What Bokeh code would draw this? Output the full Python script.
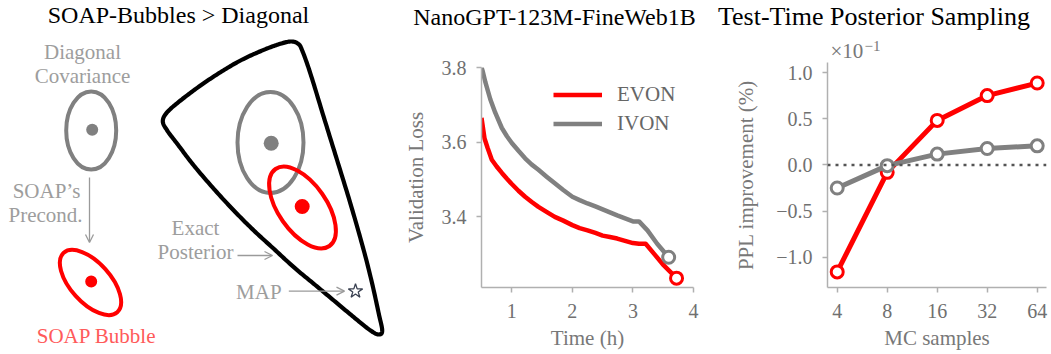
import numpy as np
from bokeh.plotting import figure
from bokeh.layouts import row, column
from bokeh.models import (Range1d, Arrow, OpenHead, FixedTicker,
                          CustomJSTickFormatter, Legend, LegendItem, Span)
from bokeh.core.properties import value
from bokeh.embed import file_html
from bokeh.resources import INLINE

SERIF = "Liberation Serif"
RED = "#ff0000"
GRAY = "#808080"
AXIS = "#b0b0b0"
TICKTXT = "#707070"
LABTXT = "#787878"
LIGHT = "#9d9d9d"
BASE_SHIFT = 0.31   # em: rendered alphabetic baseline sits this much below the anchor

# ---------------- titles ----------------
panel_titles = ["SOAP-Bubbles > Diagonal", "NanoGPT-123M-FineWeb1B", "Test-Time Posterior Sampling"]

# ---------------- data: middle panel (NanoGPT-123M-FineWeb1B) ----------------
evon_time = [0.50, 0.55, 0.60, 0.67, 0.75, 0.84, 0.92, 1.00, 1.11, 1.22, 1.33, 1.44,
             1.58, 1.71, 1.85, 2.00, 2.12, 2.25, 2.38, 2.50, 2.62, 2.74, 2.87, 3.00,
             3.10, 3.21, 3.35, 3.51, 3.72]
evon_loss = [3.665, 3.610, 3.585, 3.553, 3.535, 3.517, 3.502, 3.488, 3.470, 3.454, 3.440, 3.427,
             3.413, 3.400, 3.390, 3.378, 3.370, 3.364, 3.357, 3.350, 3.346, 3.342, 3.336, 3.330,
             3.328, 3.328, 3.301, 3.270, 3.236]
ivon_time = [0.50, 0.52, 0.565, 0.645, 0.727, 0.836, 0.92, 1.00, 1.11, 1.22, 1.33, 1.44,
             1.58, 1.71, 1.85, 2.00, 2.12, 2.25, 2.38, 2.50, 2.62, 2.74, 2.87, 3.00,
             3.10, 3.24, 3.40, 3.59]
ivon_loss = [3.800, 3.790, 3.760, 3.715, 3.679, 3.638, 3.616, 3.598, 3.577, 3.557, 3.540, 3.526,
             3.507, 3.490, 3.472, 3.454, 3.445, 3.436, 3.428, 3.420, 3.412, 3.404, 3.396, 3.388,
             3.388, 3.364, 3.328, 3.292]
time_ticks = [1, 2, 3, 4]
loss_ticks = [3.4, 3.6, 3.8]
series_names = ["EVON", "IVON"]

# ---------------- data: right panel (Test-Time Posterior Sampling) ----------------
mc_samples = [4, 8, 16, 32, 64]
evon_ppl = [-1.16, -0.08, 0.484, 0.753, 0.889]   # in units of 1e-1 %
ivon_ppl = [-0.25, -0.007, 0.118, 0.179, 0.208]  # in units of 1e-1 %
ppl_ticks = [-1.0, -0.5, 0.0, 0.5, 1.0]

# ---------------- data: left schematic (page pixel space) ----------------
posterior_x = [162.3, 166.7, 180, 200, 220, 240, 260, 276.7, 290, 297.7, 301.7, 310, 323.3,
               336.7, 350, 363.3, 371.7, 378.3, 381.7, 378.3, 370, 353.3, 333.3, 313.3,
               293.3, 273.3, 253.3, 233.3, 213.3, 193.3, 176.7, 166.7]
posterior_y = [120.7, 111.7, 100, 85, 71.7, 60, 50.7, 44.3, 41, 43.3, 50, 73.3, 116.7,
               160, 203.3, 250, 283.3, 313.3, 330, 334, 330, 316.7, 300, 283.3,
               266.7, 248.3, 230, 210, 188.3, 165, 143.3, 130]
ell_x = [90.7, 90.0, 270.0, 302.0]
ell_y = [130.0, 282.0, 142.0, 207.0]
ell_w = [50, 80, 66, 94]
ell_h = [78, 40, 101, 48]
ell_angle = [0, -48, 0, -55]
ell_color = [GRAY, RED, GRAY, RED]
dot_x = [91.7, 90.7, 270.7, 301.7]
dot_y = [129.3, 281.0, 142.7, 206.0]
dot_size = [12, 12, 15, 15]
note_text = ["Diagonal", "Covariance", "SOAP\u2019s", "Precond.", "Exact", "Posterior", "MAP"]
note_x = [82, 82, 46, 45, 195, 195, 258.3]
note_y = [58.3, 81.7, 197.3, 220.7, 234.3, 258.3, 298.3]   # baselines


def catmull_rom_closed(px, py, n=14):
    P = np.column_stack([px, py]).astype(float)
    N = len(P)
    out = []
    t = np.linspace(0, 1, n, endpoint=False)[:, None]
    for i in range(N):
        p0, p1_, p2_, p3_ = P[(i - 1) % N], P[i], P[(i + 1) % N], P[(i + 2) % N]
        pts = 0.5 * ((2 * p1_) + (-p0 + p2_) * t + (2 * p0 - 5 * p1_ + 4 * p2_ - p3_) * t ** 2
                     + (-p0 + 3 * p1_ - 3 * p2_ + p3_) * t ** 3)
        out.append(pts)
    out = np.vstack(out + [P[:1]])
    return out[:, 0], out[:, 1]


def no_align(p):
    if "frame_align" in p.properties():
        p.frame_align = False


def blank(x0, x1, y0, y1):
    f = figure(width=x1 - x0, height=y1 - y0, x_range=Range1d(x0, x1), y_range=Range1d(y1, y0),
               output_backend="svg", toolbar_location=None, min_border=0,
               x_axis_location=None, y_axis_location=None, title=None)
    f.grid.visible = False
    f.outline_line_color = None
    no_align(f)
    return f


def put_text(f, xs, ys, texts, size, color, align="center"):
    px = int(size)
    f.text(x=xs, y=[y - BASE_SHIFT * px for y in ys], text=texts,
           text_font=value(SERIF), text_font_size=f"{px}px", text_color=color,
           text_align=align, text_baseline="alphabetic")


PAGE_H = 354

# ================= left: schematic (with its title) =================
p1 = blank(0, 400, 0, PAGE_H)
cx, cy = catmull_rom_closed(posterior_x, posterior_y)
p1.line(cx, cy, line_color="black", line_width=4.2, line_join="round")
p1.ellipse(x=ell_x, y=ell_y, width=ell_w, height=ell_h, angle=ell_angle, angle_units="deg",
           fill_color=None, line_color=ell_color, line_width=4)
p1.scatter(x=dot_x, y=dot_y, size=dot_size, marker="circle",
           fill_color=ell_color, line_color=None)
p1.scatter(x=[355], y=[290.7], marker="star", size=15, fill_color="white",
           line_color="#3b4252", line_width=1.3)
put_text(p1, [178], [22], [panel_titles[0]], 24, "black")
put_text(p1, note_x, note_y, note_text, 21, LIGHT)
put_text(p1, [96], [342.3], ["SOAP Bubble"], 21, "#ff5a5a")
for (xs, ys, xe, ye) in [(89, 177, 89, 242), (237, 255, 272, 255), (288.3, 290.7, 344, 290.7)]:
    p1.add_layout(Arrow(end=OpenHead(size=8, line_color="#9a9a9a", line_width=1.3),
                        x_start=xs, y_start=ys, x_end=xe, y_end=ye,
                        line_color="#9a9a9a", line_width=1.3))


def style_axes(p, xlabel, ylabel, ylab_standoff):
    p.grid.visible = False
    p.outline_line_color = None
    for ax in p.axis:
        ax.axis_line_color = AXIS
        ax.axis_line_width = 1.5
        ax.major_tick_line_color = AXIS
        ax.major_tick_line_width = 1.5
        ax.major_tick_out = 5
        ax.major_tick_in = 0
        ax.minor_tick_line_color = None
        ax.major_label_text_font = SERIF
        ax.major_label_text_font_size = "20px"
        ax.major_label_text_color = TICKTXT
        ax.axis_label_text_font = SERIF
        ax.axis_label_text_font_size = "21px"
        ax.axis_label_text_font_style = "normal"
        ax.axis_label_text_color = LABTXT
    p.xaxis.major_label_standoff = 11
    p.yaxis.major_label_standoff = 10
    p.xaxis.axis_label = xlabel
    p.xaxis.axis_label_standoff = 5
    p.yaxis.axis_label = ylabel
    p.yaxis.axis_label_standoff = ylab_standoff


# ================= middle: NanoGPT =================
strip2 = blank(400, 700, 0, 31)
put_text(strip2, [554], [24.3], [panel_titles[1]], 24, "black")

p2 = figure(width=300, height=PAGE_H - 31, x_range=Range1d(0.5, 4.0),
            y_range=Range1d(3.211, 3.8), output_backend="svg", toolbar_location=None,
            title=None, min_border_left=80, min_border_right=7, min_border_top=36,
            min_border_bottom=67)
no_align(p2)
style_axes(p2, "Time (h)", "Validation Loss", 11)
p2.xaxis.ticker = FixedTicker(ticks=time_ticks)
p2.yaxis.ticker = FixedTicker(ticks=loss_ticks)
p2.xaxis.formatter = CustomJSTickFormatter(code="return tick.toFixed(0)")
p2.yaxis.formatter = CustomJSTickFormatter(code="return tick.toFixed(1)")

r_e = p2.line(evon_time, evon_loss, line_color=RED, line_width=4.5, line_join="round")
r_i = p2.line(ivon_time, ivon_loss, line_color=GRAY, line_width=4.5, line_join="round")
p2.scatter([evon_time[-1]], [evon_loss[-1]], size=12, marker="circle", fill_color="white",
           line_color=RED, line_width=3)
p2.scatter([ivon_time[-1]], [ivon_loss[-1]], size=12, marker="circle", fill_color="white",
           line_color=GRAY, line_width=3)

legend = Legend(items=[LegendItem(label=series_names[0], renderers=[r_e]),
                       LegendItem(label=series_names[1], renderers=[r_i])],
                location=(72, 149.5), orientation="vertical", glyph_width=49,
                glyph_height=29, label_height=29, label_standoff=15, spacing=0,
                padding=0, margin=0, border_line_color=None, background_fill_alpha=0,
                label_text_font=SERIF, label_text_font_size="21px",
                label_text_color="#666666")
p2.add_layout(legend)

# ================= right: Test-Time Posterior Sampling =================
strip3 = blank(700, 1048, 0, 62)
put_text(strip3, [873.5], [24.3], [panel_titles[2]], 26, "black")
put_text(strip3, [830], [57.3], ["\u00d710"], 21, LABTXT, align="left")
put_text(strip3, [864], [50.5], ["\u22121"], 15, LABTXT, align="left")

p3 = figure(width=348, height=PAGE_H - 62, x_axis_type="log", x_range=Range1d(3.496, 72.8),
            y_range=Range1d(-1.329, 1.112), output_backend="svg", toolbar_location=None,
            title=None, min_border_left=127, min_border_right=2, min_border_top=0,
            min_border_bottom=67)
no_align(p3)
style_axes(p3, "MC samples", "PPL improvement (%)", 15)
p3.xaxis.ticker = FixedTicker(ticks=mc_samples)
p3.xaxis.formatter = CustomJSTickFormatter(code="return tick.toFixed(0)")
p3.yaxis.ticker = FixedTicker(ticks=ppl_ticks)
p3.yaxis.formatter = CustomJSTickFormatter(
    code="return (tick < -1e-9 ? '\u2212' : '') + Math.abs(tick).toFixed(1)")

p3.add_layout(Span(location=0, dimension="width", line_color="#555555", line_width=2.5,
                   line_dash="3 5"))
p3.line(mc_samples, evon_ppl, line_color=RED, line_width=5, line_join="round")
p3.scatter(mc_samples, evon_ppl, size=12, marker="circle", fill_color="white",
           line_color=RED, line_width=3)
p3.line(mc_samples, ivon_ppl, line_color=GRAY, line_width=5, line_join="round")
p3.scatter(mc_samples, ivon_ppl, size=12, marker="circle", fill_color="white",
           line_color=GRAY, line_width=3)

layout = row(p1, column(strip2, p2, spacing=0), column(strip3, p3, spacing=0), spacing=0)
open("out.html", "w").write(file_html(layout, INLINE))
